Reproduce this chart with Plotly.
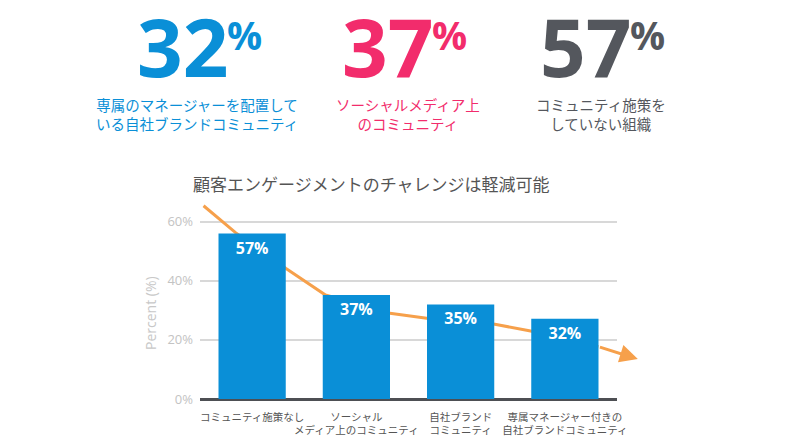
import plotly.graph_objects as go

# ---------------- data ----------------
categories = ["コミュニティ施策なし", "ソーシャル<br>メディア上のコミュニティ",
              "自社ブランド<br>コミュニティ", "専属マネージャー付きの<br>自社ブランドコミュニティ"]
bar_values = [56, 35.2, 32, 27.2]
bar_labels = ["57%", "37%", "35%", "32%"]
y_ticks = [0, 20, 40, 60]
y_tick_labels = ["0%", "20%", "40%", "60%"]

trend_x = [-0.466, -0.159, 0.325, 0.704, 1.322, 1.675, 2.329, 2.671, 3.322, 3.70]
trend_y = [65.4, 56.3, 44.2, 35.2, 29.0, 27.3, 25.3, 23.0, 17.7, 13.5]

headline_numbers = ["32", "37", "57"]
headline_texts = ["専属のマネージャーを配置して<br>いる自社ブランドコミュニティ",
                  "ソーシャルメディア上<br>のコミュニティ",
                  "コミュニティ施策を<br>していない組織"]
chart_title = "顧客エンゲージメントのチャレンジは軽減可能"
y_title = "Percent (%)"

# ---------------- layout helpers ----------------
W, H = 800, 443
L, R, T, B = 200, 183, 204, 44
PW, PH = W - L - R, H - T - B


def px(x):
    return (x - L) / PW


def py(y):
    return (H - B - y) / PH


BLUE = "#0A8FD7"
PINK = "#F22C6C"
GRAY = "#54575D"
ORANGE = "#F6A04B"
JP = "Noto Sans CJK JP"
NUM = "Open Sans"

fig = go.Figure()

fig.add_trace(go.Scatter(
    x=trend_x[:-1], y=trend_y[:-1], mode="lines",
    line=dict(color=ORANGE, width=3), cliponaxis=False,
    hoverinfo="skip", showlegend=False, zorder=0,
))

fig.add_trace(go.Bar(
    x=list(range(len(categories))), y=bar_values, width=0.645,
    marker=dict(color=BLUE, line=dict(width=0)),
    text=bar_labels, textposition="inside", insidetextanchor="end",
    textangle=0, textfont=dict(family=NUM, size=16, color="white", weight="bold"),
    showlegend=False, zorder=1,
))

annotations = []
# arrowhead on the trend line
annotations.append(dict(
    x=trend_x[-1], y=trend_y[-1], ax=trend_x[-2], ay=trend_y[-2],
    xref="x", yref="y", axref="x", ayref="y", text="", showarrow=True,
    arrowhead=2, arrowsize=1.2, arrowwidth=3, arrowcolor=ORANGE,
))

# headline big numbers
num_right = [229.5, 435, 633]
num_colors = [BLUE, PINK, GRAY]
text_centers = [197, 408, 601]
for n, xr, col, tx, tc in zip(headline_numbers, num_right, num_colors,
                               headline_texts, text_centers):
    annotations.append(dict(
        x=px(xr), y=py(45), xref="paper", yref="paper", text=n,
        xanchor="right", yanchor="middle", showarrow=False,
        font=dict(family=NUM, size=80, color=col, weight="bold"),
    ))
    annotations.append(dict(
        x=px(xr - 5), y=py(34), xref="paper", yref="paper", text="%",
        xanchor="left", yanchor="middle", showarrow=False,
        font=dict(family=NUM, size=39, color=col, weight="bold"),
    ))
    annotations.append(dict(
        x=px(tc), y=py(114), xref="paper", yref="paper", text=tx,
        xanchor="center", yanchor="middle", showarrow=False,
        font=dict(family=JP, size=14.5, color=col),
    ))

annotations.append(dict(
    x=px(371.5), y=py(183.5), xref="paper", yref="paper", text=chart_title,
    xanchor="center", yanchor="middle", showarrow=False,
    font=dict(family=JP, size=17, color="#555555"),
))
annotations.append(dict(
    x=px(150), y=py(313), xref="paper", yref="paper", text=y_title,
    xanchor="center", yanchor="middle", showarrow=False, textangle=-90,
    font=dict(family=NUM, size=14, color="#C8C8C8"),
))

fig.update_layout(
    width=W, height=H,
    margin=dict(l=L, r=R, t=T, b=B, pad=0, autoexpand=False),
    paper_bgcolor="white", plot_bgcolor="white",
    bargap=0.355,
    annotations=annotations,
    xaxis=dict(
        range=[-0.5, 3.5], tickvals=list(range(len(categories))),
        ticktext=categories, showgrid=False, zeroline=False, showline=False,
        ticks="", tickangle=0, automargin=False, ticklabelstandoff=10,
        tickfont=dict(family=JP, size=10.5, color="#555555"),
        fixedrange=True,
    ),
    yaxis=dict(
        range=[0, 66], tickvals=y_ticks, ticktext=y_tick_labels,
        showgrid=True, gridcolor="#D8D8D8", gridwidth=1.5,
        zeroline=True, zerolinecolor="#4D4F53", zerolinewidth=2.5,
        showline=False, ticks="", ticklabelstandoff=6, automargin=False,
        tickfont=dict(family=NUM, size=13, color="#C3C3C3"),
        fixedrange=True,
    ),
)

fig.write_html(
    "out.html",
    config={"displayModeBar": False},
    post_script="document.body.style.margin='0px';document.body.style.overflow='hidden';",
)
